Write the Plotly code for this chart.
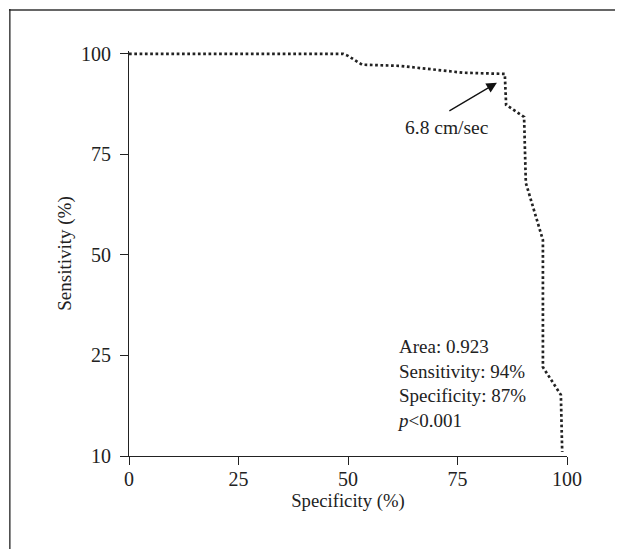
import plotly.graph_objects as go

# ROC curve points (specificity %, sensitivity on the drawn axis scale; bottom tick is labelled 10)
specificity = [0, 48.9, 50.0, 53.2, 61.9, 76.3, 85.8, 86.1, 90.2, 90.6, 94.5, 94.5, 98.6, 98.9]
sensitivity = [100, 100, 99.5, 97.3, 97.0, 95.3, 95.0, 87.3, 84.3, 67.9, 53.7, 22.1, 15.2, 1.0]

x_ticks = [0, 25, 50, 75, 100]
y_tickvals = [0, 25, 50, 75, 100]
y_ticktext = ["10", "25", "50", "75", "100"]

cutoff_label = "6.8 cm/sec"
cutoff_point = (84.0, 92.8)
cutoff_tail = (72.8, 85.6)
cutoff_text_pos = (72.6, 81.6)

stats_lines = ["Area: 0.923", "Sensitivity: 94%", "Specificity: 87%", "<i>p</i><0.001"]

FONT = "Liberation Serif"
INK = "#222222"

fig = go.Figure()
fig.add_trace(go.Scatter(
    x=specificity, y=sensitivity, mode="lines",
    line=dict(color=INK, width=2.7, dash="2.7px,2.6px"),
    showlegend=False, hoverinfo="skip",
))

# arrow
fig.add_annotation(
    x=cutoff_point[0], y=cutoff_point[1], ax=cutoff_tail[0], ay=cutoff_tail[1],
    xref="x", yref="y", axref="x", ayref="y", text="",
    showarrow=True, arrowhead=2, arrowsize=1.6, arrowwidth=1.3, arrowcolor="#111111",
)
fig.add_annotation(
    x=cutoff_text_pos[0], y=cutoff_text_pos[1], xref="x", yref="y",
    text=cutoff_label, showarrow=False, font=dict(family=FONT, size=19.5, color=INK),
)
fig.add_annotation(
    x=60.8, y=18.0, xref="x", yref="y", xanchor="left", yanchor="middle", align="left",
    text="<br>".join(stats_lines), showarrow=False,
    font=dict(family=FONT, size=19, color=INK),
)

# outer frame (top and left edges)
fig.add_shape(type="line", xref="paper", yref="paper", x0=-0.274, x1=1.2, y0=1.101, y1=1.101,
              line=dict(color="#666666", width=2))
fig.add_shape(type="line", xref="paper", yref="paper", x0=-0.272, x1=-0.272, y0=1.104, y1=-0.3,
              line=dict(color=INK, width=1.3))

axis_common = dict(
    showline=True, linecolor=INK, linewidth=1.2, ticks="outside", ticklen=8,
    tickcolor=INK, tickwidth=1.2, showgrid=False, zeroline=False,
    tickfont=dict(family=FONT, size=20, color=INK),
)

fig.update_xaxes(range=[0, 100], tickvals=x_ticks, ticklabelstandoff=-3, **axis_common,
                 title=dict(text="Specificity (%)", font=dict(family=FONT, size=18.7, color=INK), standoff=3))
fig.update_yaxes(range=[0, 100.7], tickvals=y_tickvals, ticktext=y_ticktext, ticklabelstandoff=5,
                 **axis_common,
                 title=dict(text="Sensitivity (%)", font=dict(family=FONT, size=19, color=INK), standoff=4))

fig.update_layout(
    width=615, height=541,
    margin=dict(l=121, r=56, t=43, b=93),
    plot_bgcolor="white", paper_bgcolor="white",
    font=dict(family=FONT, color=INK),
)

fig.write_html("out.html")
